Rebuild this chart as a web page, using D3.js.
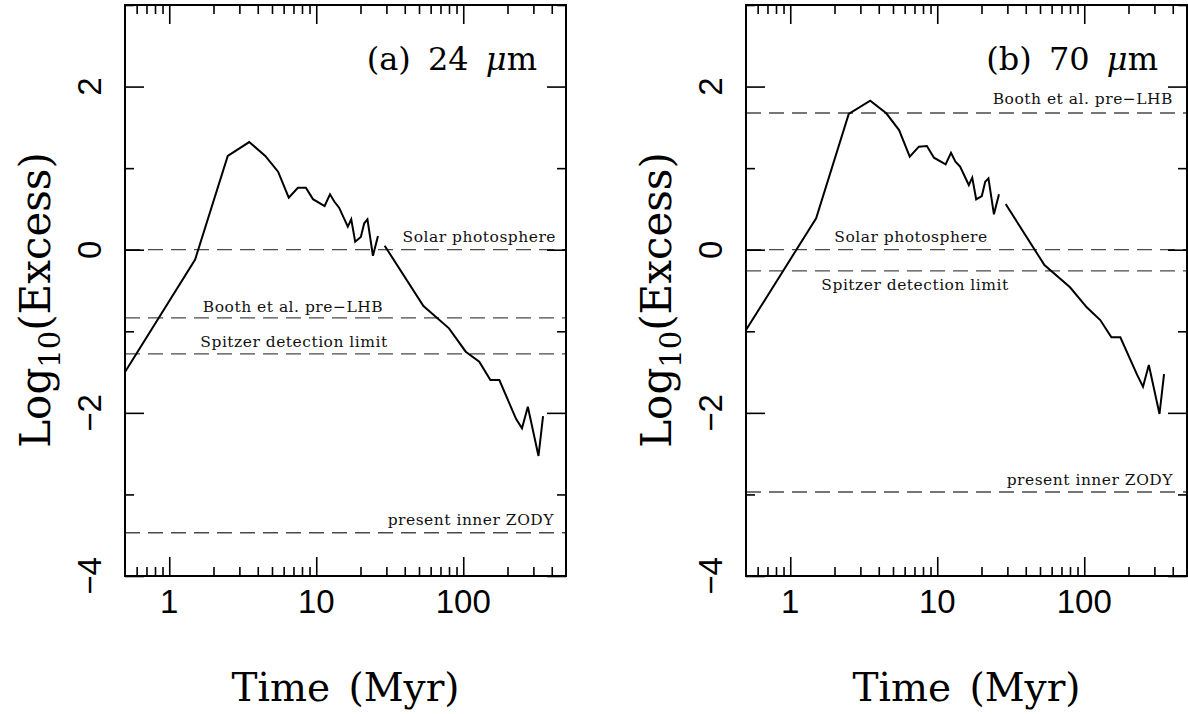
<!DOCTYPE html>
<html><head><meta charset="utf-8">
<script src="https://cdn.jsdelivr.net/npm/d3@7"></script>
<style>body{margin:0;background:#fff}svg{display:block}</style>
</head><body>
<svg id="c" width="1188" height="714"></svg>
<script>
// ---- data ----
const times = [0.5, 1.5, 2.5, 3.5, 4.5, 5.5, 6.5, 7.5, 8.5, 9.5, 11.4, 12.4, 13.3, 14.3, 16.4, 17.3, 18.4, 20.1, 21.2, 22.3, 24.3, 26.3,
  null,
  29.2, 53.6, 80, 104, 128.5, 153, 176, 229, 251, 275, 325, 349];
const excess24 = [-1.50, -0.12, 1.15, 1.32, 1.15, 0.956, 0.637, 0.76, 0.76, 0.62, 0.536, 0.679, 0.588, 0.515, 0.282, 0.373, 0.098, 0.156, 0.324, 0.373, -0.074, 0.168,
  null,
  0.049, -0.69, -0.964, -1.25, -1.373, -1.598, -1.598, -2.076, -2.19, -1.925, -2.529, -2.039];
const excess70 = [-0.984, 0.385, 1.664, 1.827, 1.672, 1.467, 1.14, 1.263, 1.271, 1.128, 1.047, 1.189, 1.079, 1.018, 0.793, 0.883, 0.618, 0.658, 0.834, 0.875, 0.434, 0.679,
  null,
  0.56, -0.188, -0.461, -0.706, -0.862, -1.074, -1.074, -1.535, -1.68, -1.413, -2.014, -1.524];
const refNames = ["Solar photosphere", "Booth et al. pre\u2212LHB", "Spitzer detection limit", "present inner ZODY"];
const refLevels24 = [0, -0.835, -1.276, -3.47];
const refLevels70 = [0, 1.676, -0.26, -2.97];
const xMajor = [1, 10, 100];
const xMajorLabels = ["1", "10", "100"];
const xMinor = [0.6, 0.7, 0.8, 0.9, 2, 3, 4, 5, 6, 7, 8, 9, 20, 30, 40, 50, 60, 70, 80, 90, 200, 300, 400];
const yMajor = [-4, -2, 0, 2];
const yMajorLabels = ["\u22124", "\u22122", "0", "2"];
const yMinor = [-3, -1, 1, 3];
const panelTitles = ["(a) 24 ", "(b) 70 "];

// ---- layout ----
const svg = d3.select("#c");
const topY = 5, bottomY = 576;
const serif = "'DejaVu Serif', serif";
const sans = "'Liberation Sans', Arial, sans-serif";

const panels = [
  {left: 125, right: 566, values: excess24, levels: refLevels24, title: panelTitles[0],
   labels: [ {anchor: "end", x: 556, dy: -8}, {anchor: "middle", x: 293, dy: -6}, {anchor: "middle", x: 294, dy: -7}, {anchor: "end", x: 554, dy: -8} ]},
  {left: 746, right: 1187, values: excess70, levels: refLevels70, title: panelTitles[1],
   labels: [ {anchor: "middle", x: 911, dy: -8}, {anchor: "end", x: 1173, dy: -9}, {anchor: "middle", x: 915, dy: 19}, {anchor: "end", x: 1173, dy: -7} ]}
];

panels.forEach((p, i) => {
  const x = d3.scaleLog().domain([0.5, 500]).range([p.left, p.right]);
  const y = d3.scaleLinear().domain([-4, 3]).range([bottomY, topY]);
  const g = svg.append("g");

  // reference dashed lines
  p.levels.forEach((lv, k) => {
    g.append("line").attr("x1", p.left).attr("x2", p.right)
      .attr("y1", y(lv)).attr("y2", y(lv))
      .attr("stroke", "#4a4a4a").attr("stroke-width", 1.3)
      .attr("stroke-dasharray", "15,8");
    const L = p.labels[k];
    g.append("text").attr("x", L.x).attr("y", y(lv) + L.dy)
      .attr("text-anchor", L.anchor)
      .attr("font-family", serif).attr("font-size", 15.5)
      .attr("letter-spacing", 0.5)
      .attr("fill", "#111")
      .text(refNames[k]);
  });

  // curve
  const pts = times.map((t, j) => [t, p.values[j]]);
  const line = d3.line().defined(d => d[0] != null && d[1] != null)
    .x(d => x(d[0])).y(d => y(d[1]));
  g.append("path").datum(pts).attr("d", line)
    .attr("fill", "none").attr("stroke", "#000").attr("stroke-width", 2)
    .attr("stroke-linejoin", "miter");

  // axes (inward ticks)
  const styleAxis = sel => { sel.select(".domain").remove(); sel.selectAll("text").remove();
    sel.selectAll("line").attr("stroke", "#000").attr("stroke-width", 1.6); };
  g.append("g").attr("transform", `translate(0,${bottomY})`).call(d3.axisBottom(x).tickValues(xMajor).tickSize(-19)).call(styleAxis);
  g.append("g").attr("transform", `translate(0,${bottomY})`).call(d3.axisBottom(x).tickValues(xMinor).tickSize(-9)).call(styleAxis);
  g.append("g").attr("transform", `translate(0,${topY})`).call(d3.axisTop(x).tickValues(xMajor).tickSize(-19)).call(styleAxis);
  g.append("g").attr("transform", `translate(0,${topY})`).call(d3.axisTop(x).tickValues(xMinor).tickSize(-9)).call(styleAxis);
  g.append("g").attr("transform", `translate(${p.left},0)`).call(d3.axisLeft(y).tickValues(yMajor).tickSize(-19)).call(styleAxis);
  g.append("g").attr("transform", `translate(${p.left},0)`).call(d3.axisLeft(y).tickValues(yMinor).tickSize(-9)).call(styleAxis);
  g.append("g").attr("transform", `translate(${p.right},0)`).call(d3.axisRight(y).tickValues(yMajor).tickSize(-19)).call(styleAxis);
  g.append("g").attr("transform", `translate(${p.right},0)`).call(d3.axisRight(y).tickValues(yMinor).tickSize(-9)).call(styleAxis);

  // frame
  g.append("rect").attr("x", p.left).attr("y", topY).attr("width", p.right - p.left).attr("height", bottomY - topY)
    .attr("fill", "none").attr("stroke", "#000").attr("stroke-width", 2);

  // x tick labels
  xMajor.forEach((v, k) => {
    g.append("text").attr("x", x(v)).attr("y", 613).attr("text-anchor", "middle")
      .attr("font-family", sans).attr("font-size", 33).attr("fill", "#000").text(xMajorLabels[k]);
  });
  // y tick labels (rotated)
  yMajor.forEach((v, k) => {
    g.append("text").attr("transform", `translate(${p.left - 24},${y(v)}) rotate(-90)`)
      .attr("text-anchor", "middle").attr("font-family", sans).attr("font-size", 33).attr("fill", "#000")
      .text(yMajorLabels[k]);
  });

  // panel title
  const t = g.append("text").attr("x", p.right - 29).attr("y", 70).attr("text-anchor", "end")
    .attr("font-family", serif).attr("font-size", 32).attr("word-spacing", 7).attr("fill", "#000");
  t.append("tspan").text(p.title);
  t.append("tspan").attr("font-style", "italic").text("\u03bc");
  t.append("tspan").text("m");

  // x axis title
  const cx = (p.left + p.right) / 2;
  g.append("text").attr("x", cx).attr("y", 701).attr("text-anchor", "middle")
    .attr("font-family", serif).attr("font-size", 39).attr("word-spacing", 6).attr("fill", "#000").text("Time (Myr)");

  // y axis title
  const yt = g.append("text").attr("transform", `translate(${p.left - 75},300) rotate(-90)`)
    .attr("text-anchor", "middle").attr("font-family", serif).attr("font-size", 42).attr("fill", "#000");
  yt.append("tspan").text("Log");
  yt.append("tspan").attr("font-size", 29).attr("dy", 10).text("10");
  yt.append("tspan").attr("dy", -10).text("(Excess)");
});
</script>
</body></html>
